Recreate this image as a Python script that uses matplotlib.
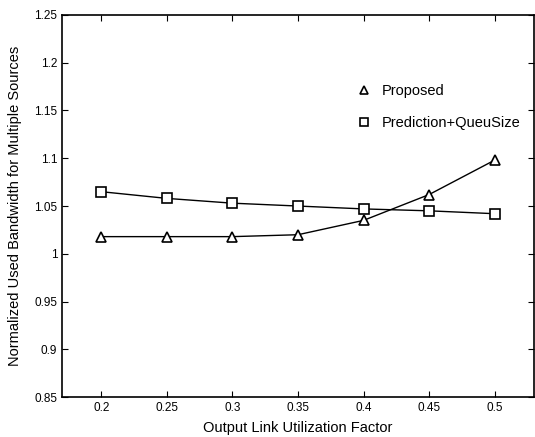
import matplotlib.pyplot as plt
from matplotlib.lines import Line2D

plt.rcParams['font.family'] = ['Liberation Sans', 'DejaVu Sans']

x = [0.2, 0.25, 0.3, 0.35, 0.4, 0.45, 0.5]
proposed = [1.018, 1.018, 1.018, 1.020, 1.035, 1.062, 1.098]
pred_queue = [1.065, 1.058, 1.053, 1.050, 1.047, 1.045, 1.042]

fig = plt.figure(figsize=(5.35, 4.37), dpi=100)
ax = fig.add_axes([0.116, 0.091, 0.882, 0.875])

ax.plot(x, proposed, color='black', lw=1, marker='^', ms=6.5,
        mfc='white', mec='black', mew=1.2)
ax.plot(x, pred_queue, color='black', lw=1, marker='s', ms=6.5,
        mfc='white', mec='black', mew=1.2)

ax.set_xlim(0.17, 0.53)
ax.set_ylim(0.85, 1.25)
ax.set_xticks(x)
ax.set_xticklabels(['0.2', '0.25', '0.3', '0.35', '0.4', '0.45', '0.5'])
ax.set_yticks([0.85, 0.9, 0.95, 1.0, 1.05, 1.1, 1.15, 1.2, 1.25])
ax.set_yticklabels(['0.85', '0.9', '0.95', '1', '1.05', '1.1', '1.15', '1.2', '1.25'])
ax.tick_params(direction='in', labelsize=8.5, length=4, top=True, right=True)
for s in ax.spines.values():
    s.set_linewidth(1.2)

ax.set_xlabel('Output Link Utilization Factor', fontsize=10.5, labelpad=5)
ax.set_ylabel('Normalized Used Bandwidth for Multiple Sources', fontsize=10.5)
ax.yaxis.set_label_coords(-0.085, 0.5)

handles = [
    Line2D([], [], ls='none', marker='^', ms=5.5, mfc='white', mec='black', mew=1.2),
    Line2D([], [], ls='none', marker='s', ms=5.5, mfc='white', mec='black', mew=1.2),
]
ax.legend(handles, ['Proposed', 'Prediction+QueuSize'], loc='upper left',
          bbox_to_anchor=(0.615, 0.834), frameon=False, fontsize=10.5,
          handlelength=0.8, handletextpad=0.8, labelspacing=1.25,
          borderaxespad=0)

fig.savefig('out.png', dpi=100)
